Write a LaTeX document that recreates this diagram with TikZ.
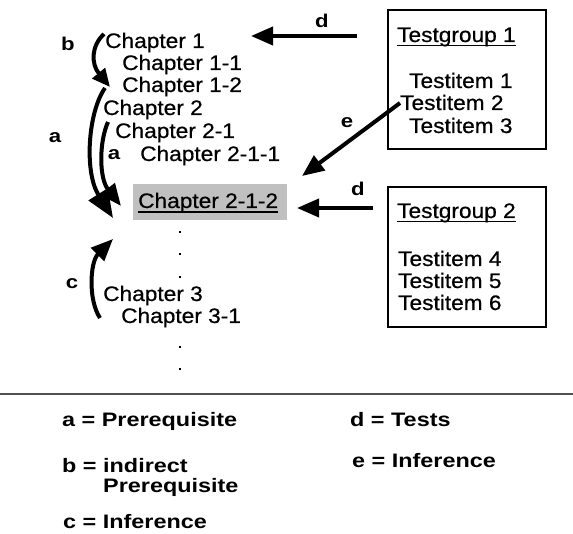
\documentclass[tikz,border=0pt]{standalone}
\usepackage{fontspec}
\setmainfont{Liberation Sans}
\newfontfamily\mainf[FakeStretch=1.08,FakeBold=0.6]{Liberation Sans}
\newfontfamily\legf[FakeStretch=1.2]{Liberation Sans}
\usetikzlibrary{arrows.meta}
\begin{document}
\begin{tikzpicture}[x=1pt,y=-1pt,
  txt/.style={inner sep=0pt, anchor=base west, font=\mainf\fontsize{21}{25}\selectfont},
  lbl/.style={inner sep=0pt, font=\legf\bfseries\fontsize{18.5}{20}\selectfont},
  leg/.style={inner sep=0pt, anchor=base west, font=\legf\bfseries\fontsize{19.5}{22}\selectfont},
  arr/.style={line width=4pt, -{Triangle[length=22pt,width=18pt]}},
  smallarr/.style={line width=4pt, -{Triangle[length=18pt,width=16pt]}},
  bigarr/.style={line width=4pt, -{Triangle[length=28pt,width=22pt]}},
  tbox/.style={draw, line width=2.5pt, inner sep=0pt},
  dotn/.style={fill, inner sep=0pt, minimum size=2.5pt},
  ul/.style={line width=1.6pt}]
\fill[white] (0,0) rectangle (573,534);
\useasboundingbox (0,0) rectangle (573,534);

% chapters
\node[txt] (c1) at (105,48) {Chapter 1};
\node[txt] (c11) at (122,70) {Chapter 1-1};
\node[txt] (c12) at (122,92) {Chapter 1-2};
\node[txt] (c2) at (103,115) {Chapter 2};
\node[txt] (c21) at (115,138) {Chapter 2-1};
\node[txt] (c211) at (140,161) {Chapter 2-1-1};
\node[fill={rgb,255:red,192;green,192;blue,192}, minimum width=154pt, minimum height=36pt, inner sep=0pt] (hl) at (210,202) {};
\node[txt] (c212) at (138,208) {Chapter 2-1-2};
\draw[ul] ([yshift=-4pt]c212.base west) -- ([yshift=-4pt]c212.base east);
\node[txt] (c3) at (103,301) {Chapter 3};
\node[txt] (c31) at (121,323) {Chapter 3-1};

% dots
\foreach \yy [count=\i] in {232,254,277,347,369} {\node[dotn] (dt\i) at (180,\yy) {};}

% test groups
\node[tbox, minimum width=158pt, minimum height=139pt] (tg1) at (467,79.5) {};
\node[txt] (tg1t) at (397,42) {Testgroup 1};
\draw[ul] ([yshift=-3.5pt]tg1t.base west) -- ([yshift=-3.5pt]tg1t.base east);
\node[txt] (ti1) at (409,88) {Testitem 1};
\node[txt] (ti2) at (400,110) {Testitem 2};
\node[txt] (ti3) at (409,133) {Testitem 3};

\node[tbox, minimum width=158pt, minimum height=140pt] (tg2) at (467,257) {};
\node[txt] (tg2t) at (397,218) {Testgroup 2};
\draw[ul] ([yshift=-3.5pt]tg2t.base west) -- ([yshift=-3.5pt]tg2t.base east);
\node[txt] (ti4) at (398,266) {Testitem 4};
\node[txt] (ti5) at (398,288) {Testitem 5};
\node[txt] (ti6) at (398,310) {Testitem 6};

% connector end points
\coordinate (bS) at (104,34);
\coordinate (bE) at (110,87);
\coordinate (aS) at (105,88);
\coordinate (aE) at (113,218);
\coordinate (a2S) at (108,122);
\coordinate (a2E) at (121,206);
\coordinate (cS) at (100,318);
\coordinate (cE) at (113,239);
\coordinate (d1S) at (357,36);
\coordinate (d1E) at (251,36);
\coordinate (d2S) at (373,208);
\coordinate (d2E) at (297,208);
\coordinate (eS) at (400,103);
\coordinate (eE) at (302,176);

% arrows
\draw[smallarr] (bS) .. controls (91,46) and (91,64) .. (bE);
\draw[bigarr] (aS) .. controls (88,112) and (84,172) .. (aE);
\draw[arr] (a2S) .. controls (99,142) and (99,178) .. (a2E);
\draw[arr] (cS) .. controls (88,300) and (90,262) .. (cE);
\draw[arr] (d1S) -- (d1E);
\draw[arr] (d2S) -- (d2E);
\draw[arr] (eS) -- (eE);

% arrow labels
\node[lbl] (lb) at (68,44) {b};
\node[lbl] (la) at (55,138) {a};
\node[lbl] (la2) at (114,155) {a};
\node[lbl] (lc) at (72,284) {c};
\node[lbl] (ld1) at (322,21) {d};
\node[lbl] (ld2) at (358,189) {d};
\node[lbl] (le) at (347,123) {e};

% separator
\draw[line width=2pt, color={rgb,255:red,80;green,80;blue,80}] (0,394) -- (573,394);

% legend
\node[leg] (lga) at (62,427) {a = Prerequisite};
\node[leg] (lgd) at (350,427) {d = Tests};
\node[leg] (lgb) at (62,472) {b = indirect};
\node[leg] (lgb2) at (103,492) {Prerequisite};
\node[leg] (lge) at (352,467) {e = Inference};
\node[leg] (lgc) at (63,528) {c = Inference};
\end{tikzpicture}
\end{document}
